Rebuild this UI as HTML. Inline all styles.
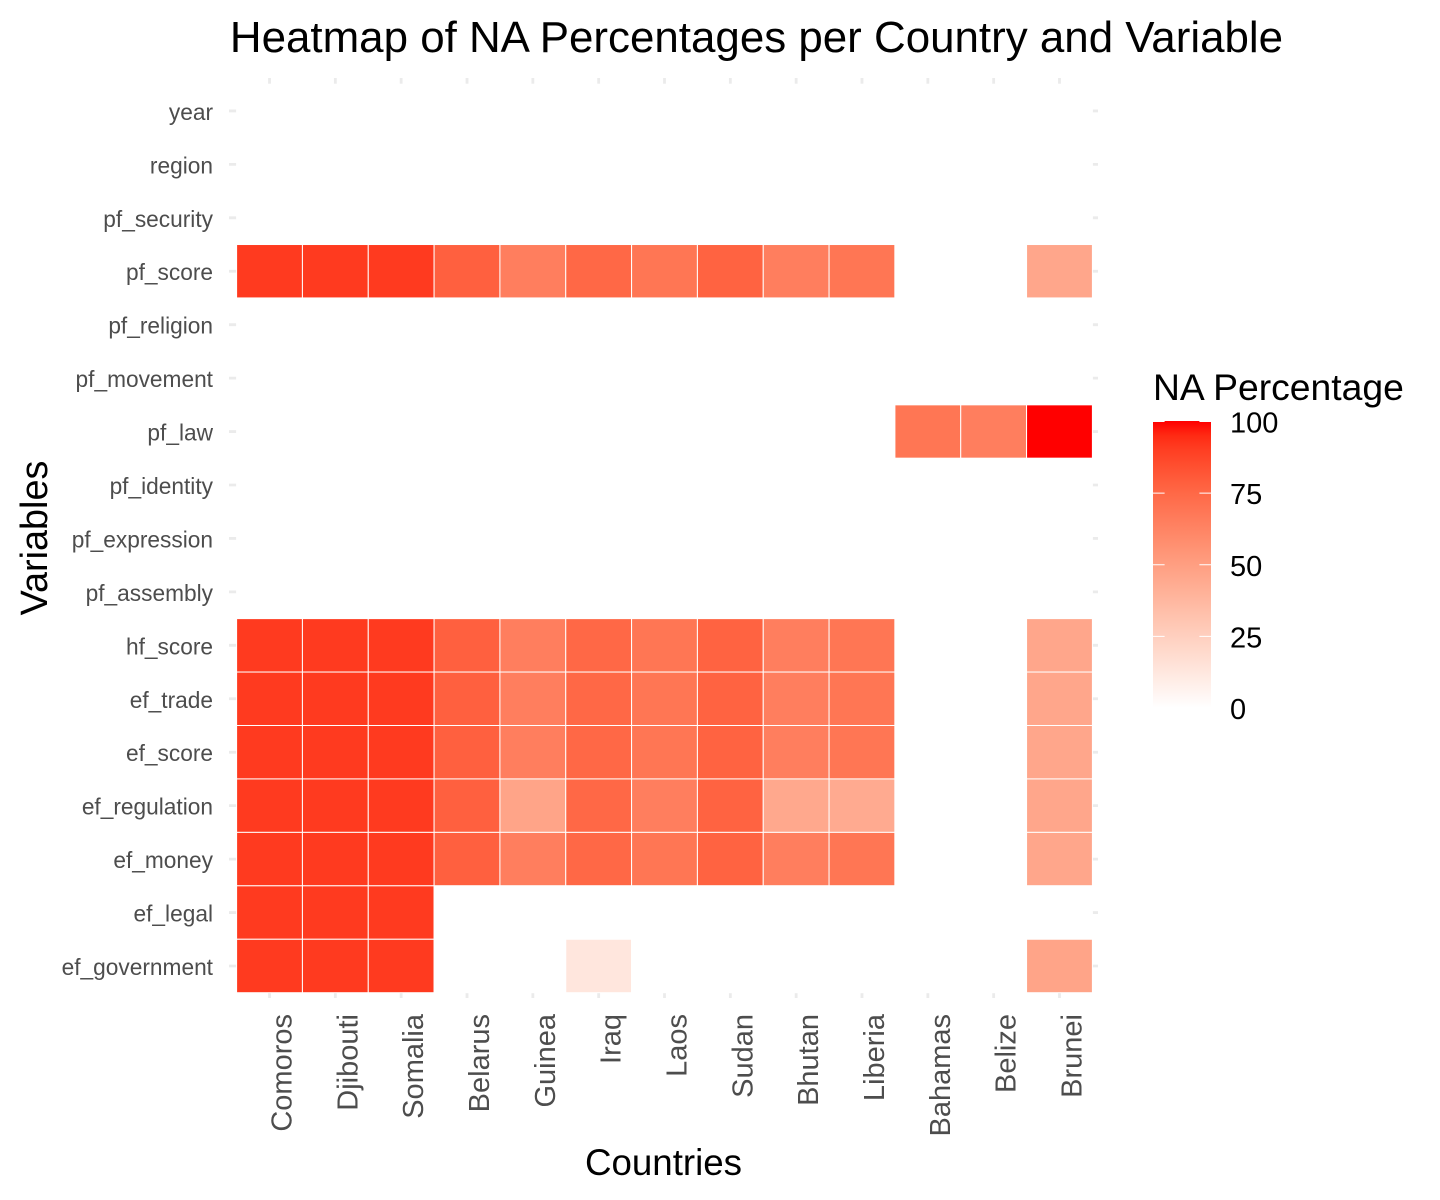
<!DOCTYPE html>
<html lang="en">
<head>
<meta charset="utf-8">
<title>Heatmap of NA Percentages per Country and Variable</title>
<style>
  html, body { margin: 0; padding: 0; background: #ffffff; }
  svg { display: block; font-family: "Liberation Sans", Arial, sans-serif; }
</style>
</head>
<body>
<svg id="chart" xmlns="http://www.w3.org/2000/svg" width="1440" height="1200" viewBox="0 0 1440 1200">
  <defs>
    <linearGradient id="legend-gradient" x1="0" y1="1" x2="0" y2="0"></linearGradient>
  </defs>
  <rect x="0" y="0" width="1440" height="1200" fill="#ffffff"/>
  <text x="756.5" y="52" text-anchor="middle" font-size="43.9" fill="#000000">Heatmap of NA Percentages per Country and Variable</text>
  <text x="663.5" y="1175" text-anchor="middle" font-size="36.7" fill="#000000">Countries</text>
  <text transform="translate(47 538) rotate(-90)" text-anchor="middle" font-size="37.8" fill="#000000">Variables</text>
  <g id="grid"></g>
  <g id="cells"></g>
  <g id="x-labels"></g>
  <g id="y-labels"></g>
  <g id="legend">
    <text x="1153" y="400" font-size="37.3" fill="#000000">NA Percentage</text>
    <rect id="legend-bar" x="1153" y="421" width="58" height="287" fill="url(#legend-gradient)"/>
  </g>
</svg>
<script>
const countries = ["Comoros", "Djibouti", "Somalia", "Belarus", "Guinea", "Iraq", "Laos", "Sudan", "Bhutan", "Liberia", "Bahamas", "Belize", "Brunei"];
const variables = ["year", "region", "pf_security", "pf_score", "pf_religion", "pf_movement", "pf_law", "pf_identity", "pf_expression", "pf_assembly", "hf_score", "ef_trade", "ef_score", "ef_regulation", "ef_money", "ef_legal", "ef_government"];
const legendTicks = [0, 25, 50, 75, 100];
const rowYear = [0, 0, 0, 0, 0, 0, 0, 0, 0, 0, 0, 0, 0];
const rowRegion = [0, 0, 0, 0, 0, 0, 0, 0, 0, 0, 0, 0, 0];
const rowPfSecurity = [0, 0, 0, 0, 0, 0, 0, 0, 0, 0, 0, 0, 0];
const rowPfScore = [91, 91, 91, 78, 65, 75, 69, 77, 65, 69, 0, 0, 46];
const rowPfReligion = [0, 0, 0, 0, 0, 0, 0, 0, 0, 0, 0, 0, 0];
const rowPfMovement = [0, 0, 0, 0, 0, 0, 0, 0, 0, 0, 0, 0, 0];
const rowPfLaw = [0, 0, 0, 0, 0, 0, 0, 0, 0, 0, 69, 65, 100];
const rowPfIdentity = [0, 0, 0, 0, 0, 0, 0, 0, 0, 0, 0, 0, 0];
const rowPfExpression = [0, 0, 0, 0, 0, 0, 0, 0, 0, 0, 0, 0, 0];
const rowPfAssembly = [0, 0, 0, 0, 0, 0, 0, 0, 0, 0, 0, 0, 0];
const rowHfScore = [91, 91, 91, 78, 65, 75, 69, 77, 65, 69, 0, 0, 46];
const rowEfTrade = [91, 91, 91, 78, 65, 75, 69, 77, 65, 69, 0, 0, 46];
const rowEfScore = [91, 91, 91, 78, 65, 75, 69, 77, 65, 69, 0, 0, 46];
const rowEfRegulation = [91, 91, 91, 78, 47, 75, 65, 77, 45, 44, 0, 0, 46];
const rowEfMoney = [91, 91, 91, 78, 65, 75, 69, 77, 65, 69, 0, 0, 46];
const rowEfLegal = [91, 91, 91, 0, 0, 0, 0, 0, 0, 0, 0, 0, 0];
const rowEfGovernment = [91, 91, 91, 0, 0, 13, 0, 0, 0, 0, 0, 0, 47];
const matrix = [rowYear, rowRegion, rowPfSecurity, rowPfScore, rowPfReligion, rowPfMovement, rowPfLaw, rowPfIdentity, rowPfExpression, rowPfAssembly, rowHfScore, rowEfTrade, rowEfScore, rowEfRegulation, rowEfMoney, rowEfLegal, rowEfGovernment];

const SVGNS = "http://www.w3.org/2000/svg";
const COL_STEP = (1092.4 - 236.6) / countries.length;
const ROW_STEP = (992.7 - 84.2) / variables.length;
const PANEL = { left: 229, right: 1098, top: 78, bottom: 998 };

function xScale(i) { return 236.6 + COL_STEP * i; }
function yScale(j) { return 84.2 + ROW_STEP * j; }
function legendScale(v) { return 708 - (v / 100) * 286.5; }

function labToRgb(L, a, b) {
  const fy = (L + 16) / 116, fx = fy + a / 500, fz = fy - b / 200;
  const inv = function (t) { return t > 6 / 29 ? t * t * t : 3 * (6 / 29) * (6 / 29) * (t - 4 / 29); };
  const X = 0.95047 * inv(fx), Y = inv(fy), Z = 1.08883 * inv(fz);
  const lin = [
    3.2406 * X - 1.5372 * Y - 0.4986 * Z,
    -0.9689 * X + 1.8758 * Y + 0.0415 * Z,
    0.0557 * X - 0.204 * Y + 1.057 * Z
  ];
  const out = lin.map(function (c) {
    const s = c <= 0.0031308 ? 12.92 * c : 1.055 * Math.pow(c, 1 / 2.4) - 0.055;
    return Math.max(0, Math.min(255, Math.round(s * 255)));
  });
  return "rgb(" + out.join(",") + ")";
}
function colorScale(v) {
  const t = v / 100;
  return labToRgb(100 + (53.24 - 100) * t, 80.09 * t, 67.2 * t);
}

const gridGroup = document.getElementById("grid");
countries.forEach(function (name, i) {
  const line = document.createElementNS(SVGNS, "line");
  
  
  const x = xScale(i) + COL_STEP / 2;
  line.setAttribute("x1", x);
  line.setAttribute("x2", x);
  line.setAttribute("y1", PANEL.top);
  line.setAttribute("y2", PANEL.bottom);
  line.setAttribute("stroke", "#ebebeb");
  line.setAttribute("stroke-width", "2.8");
  gridGroup.appendChild(line);
});
variables.forEach(function (name, j) {
  const line = document.createElementNS(SVGNS, "line");
  
  
  const y = yScale(j) + ROW_STEP / 2;
  line.setAttribute("x1", PANEL.left);
  line.setAttribute("x2", PANEL.right);
  line.setAttribute("y1", y);
  line.setAttribute("y2", y);
  line.setAttribute("stroke", "#ebebeb");
  line.setAttribute("stroke-width", "2.8");
  gridGroup.appendChild(line);
});

const cellGroup = document.getElementById("cells");
matrix.forEach(function (row, j) {
  row.forEach(function (value, i) {
    const cell = document.createElementNS(SVGNS, "rect");
    
    
    cell.setAttribute("x", xScale(i));
    cell.setAttribute("y", yScale(j));
    cell.setAttribute("width", COL_STEP);
    cell.setAttribute("height", ROW_STEP);
    cell.setAttribute("fill", colorScale(value));
    cell.setAttribute("stroke", "#ffffff");
    cell.setAttribute("stroke-width", "1");
    cellGroup.appendChild(cell);
  });
});

const xLabelGroup = document.getElementById("x-labels");
countries.forEach(function (name, i) {
  const label = document.createElementNS(SVGNS, "text");
  
  
  const x = xScale(i) + COL_STEP / 2 + 22;
  label.setAttribute("transform", "translate(" + x + " 1014) rotate(-90)");
  label.setAttribute("text-anchor", "end");
  label.setAttribute("font-size", "29");
  label.setAttribute("fill", "#4d4d4d");
  label.textContent = name;
  xLabelGroup.appendChild(label);
});

const yLabelGroup = document.getElementById("y-labels");
variables.forEach(function (name, j) {
  const label = document.createElementNS(SVGNS, "text");
  
  
  label.setAttribute("x", 213);
  label.setAttribute("y", yScale(j) + ROW_STEP / 2 + 9);
  label.setAttribute("text-anchor", "end");
  label.setAttribute("font-size", "22.7");
  label.setAttribute("fill", "#4d4d4d");
  label.textContent = name;
  yLabelGroup.appendChild(label);
});

const gradient = document.getElementById("legend-gradient");
for (let p = 0; p <= 100; p += 5) {
  const stop = document.createElementNS(SVGNS, "stop");
  stop.setAttribute("offset", p + "%");
  stop.setAttribute("stop-color", colorScale(p));
  gradient.appendChild(stop);
}

const legendGroup = document.getElementById("legend");
legendTicks.forEach(function (value) {
  const y = legendScale(value);
  [[1153, 1164.6], [1199.4, 1211]].forEach(function (span) {
    const tick = document.createElementNS(SVGNS, "line");
    
    
    tick.setAttribute("x1", span[0]);
    tick.setAttribute("x2", span[1]);
    tick.setAttribute("y1", y);
    tick.setAttribute("y2", y);
    tick.setAttribute("stroke", "#ffffff");
    tick.setAttribute("stroke-width", "1");
    legendGroup.appendChild(tick);
  });
  const label = document.createElementNS(SVGNS, "text");
  
  
  label.setAttribute("x", 1230);
  label.setAttribute("y", y + 11);
  label.setAttribute("font-size", "29");
  label.setAttribute("fill", "#000000");
  label.textContent = value;
  legendGroup.appendChild(label);
});
</script>
</body>
</html>
